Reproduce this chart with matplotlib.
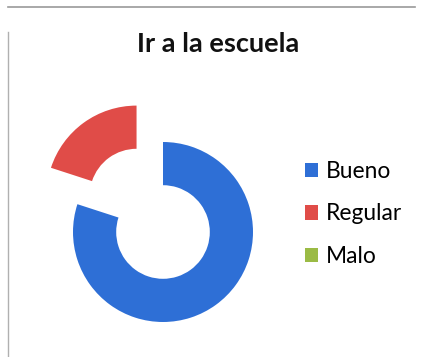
import matplotlib.pyplot as plt
import matplotlib.patches as mpatches
from matplotlib.lines import Line2D

categories = ['Bueno', 'Regular', 'Malo']
values = [80, 20, 0]
colors = ['#2e6fd6', '#e04c48', '#9bbb45']
explode = [0, 0.5, 0]

plt.rcParams['font.family'] = ['Lato', 'DejaVu Sans']

W, H = 421, 357
fig = plt.figure(figsize=(W / 100, H / 100), dpi=100)
fig.patch.set_facecolor('white')

# pie axes, square 240px centred on the ring
cx, cy, half = 163, H - 232, 120
ax = fig.add_axes([(cx - half) / W, (cy - half) / H, 2 * half / W, 2 * half / H])
ax.pie(values, colors=colors, explode=explode, startangle=90, counterclock=False,
       radius=1.0, wedgeprops=dict(width=0.48, linewidth=0))
lim = half / 90
ax.set_xlim(-lim, lim)
ax.set_ylim(-lim, lim)
ax.set_aspect('equal')
ax.axis('off')

fig.text(218 / W, 1 - 44 / H, 'Ir a la escuela', ha='center', va='center',
         fontsize=19.5, fontweight='bold', color='#111111')

handles = [mpatches.Patch(facecolor=c, edgecolor='none') for c in colors]
fig.legend(handles, categories, loc='center left', bbox_to_anchor=(305 / W, 1 - 214 / H),
           frameon=False, fontsize=16.4, handlelength=0.55, handleheight=0.6,
           handletextpad=0.35, labelspacing=0.95, borderaxespad=0, borderpad=0)

# frame lines of the scanned chart
fig.add_artist(Line2D([8 / W, 415 / W], [1 - 7 / H, 1 - 7 / H], color='#9a9a9a', lw=1.2))
fig.add_artist(Line2D([8 / W, 8 / W], [1 - 32 / H, 0], color='#b0b0b0', lw=1.0))

fig.savefig('out.png', dpi=100)
